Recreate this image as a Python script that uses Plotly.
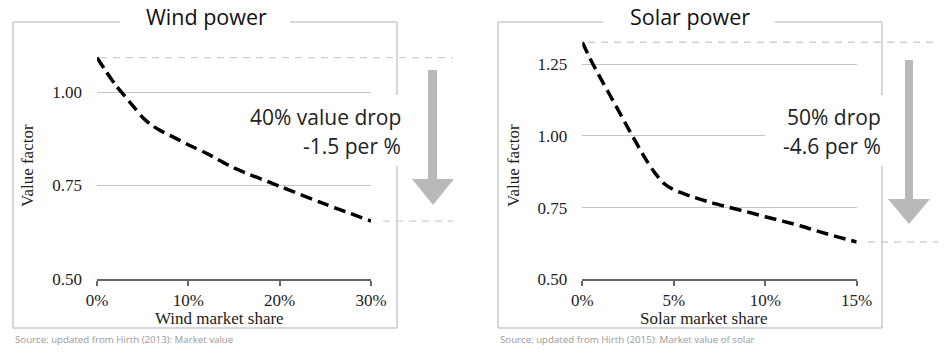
import plotly.graph_objects as go

W, H = 951, 354

# ---------------- data ----------------
wind_share = [0, 1, 2, 3, 4, 5, 6, 7, 8, 10, 12, 15, 20, 25, 30]
wind_value = [1.092, 1.055, 1.02, 0.99, 0.961, 0.932, 0.911, 0.896, 0.884, 0.859, 0.836, 0.797, 0.748, 0.70, 0.655]

solar_share = [0, 0.5, 1, 1.5, 2, 2.5, 3, 3.5, 4, 4.5, 5, 6, 7, 8, 9, 10, 11, 12, 13, 14, 15]
solar_value = [1.326, 1.26, 1.20, 1.143, 1.085, 1.027, 0.97, 0.915, 0.868, 0.832, 0.812, 0.788, 0.768,
               0.751, 0.735, 0.718, 0.702, 0.685, 0.665, 0.647, 0.63]

wind_xticks = [0, 10, 20, 30]
solar_xticks = [0, 5, 10, 15]
wind_yticks = [0.50, 0.75, 1.00]
solar_yticks = [0.50, 0.75, 1.00, 1.25]

panel_titles = ["Wind power", "Solar power"]
x_titles = ["Wind market share", "Solar market share"]
y_title = "Value factor"
notes = [("40% value drop", "-1.5 per %"), ("50% drop", "-4.6 per %")]
sources = ["Source: updated from Hirth (2013): Market value",
           "Source: updated from Hirth (2015): Market value of solar"]


def px(x):
    return x / W


def py(y):
    return 1 - y / H


SERIF = "Liberation Serif, Times New Roman, serif"
SANS = "Open Sans, Noto Sans, sans-serif"
GRID = "#c6c6c6"
FRAME = "#cacaca"
ARROW = "#b9b9b9"

fig = go.Figure()
fig.add_trace(go.Scatter(x=wind_share, y=wind_value, mode="lines", xaxis="x", yaxis="y",
                         line=dict(color="black", width=3.5, dash="12px,6px", shape="spline", smoothing=0.8),
                         showlegend=False, hoverinfo="skip"))
fig.add_trace(go.Scatter(x=solar_share, y=solar_value, mode="lines", xaxis="x2", yaxis="y2",
                         line=dict(color="black", width=3.5, dash="12px,6px", shape="spline", smoothing=0.8),
                         showlegend=False, hoverinfo="skip"))

xaxis_common = dict(showline=True, linecolor="#666", linewidth=1.5, ticks="outside", ticklen=5,
                    tickcolor="#666", tickwidth=1.5, showgrid=False, zeroline=False, automargin=False,
                    tickfont=dict(family=SERIF, size=17, color="#222"), ticklabelstandoff=0,
                    fixedrange=True)
yaxis_common = dict(showline=False, ticks="", showgrid=True, gridcolor=GRID, gridwidth=1,
                    zeroline=False, automargin=False, tickfont=dict(family=SERIF, size=17, color="#222"),
                    ticklabelstandoff=14, fixedrange=True)

fig.update_layout(
    width=W, height=H, margin=dict(l=0, r=0, t=0, b=0, autoexpand=False),
    paper_bgcolor="white", plot_bgcolor="rgba(0,0,0,0)",
    xaxis=dict(domain=[px(97), px(371)], range=[0, 30], anchor="y",
               tickvals=wind_xticks, ticktext=[f"{v}%" for v in wind_xticks], **xaxis_common),
    yaxis=dict(domain=[py(279), py(279 - 0.65 * 374)], range=[0.5, 1.15], anchor="x",
               tickvals=wind_yticks, ticktext=[f"{v:.2f}" for v in wind_yticks], **yaxis_common),
    xaxis2=dict(domain=[px(582.3), px(856.7)], range=[0, 15], anchor="y2",
                tickvals=solar_xticks, ticktext=[f"{v}%" for v in solar_xticks], **xaxis_common),
    yaxis2=dict(domain=[py(279.3), py(279.3 - 0.85 * 287)], range=[0.5, 1.35], anchor="x2",
                tickvals=solar_yticks, ticktext=[f"{v:.2f}" for v in solar_yticks], **yaxis_common),
)

shapes = []
panels = [
    dict(l=13, r=397, t=22, b=328, gl=120, gr=290, yref="y", first=wind_value[0], last=wind_value[-1],
         tx0=100, bx0=383, dx1=453, box=(232, 405), arrow=(428, 437, 70, 179, 412, 454, 205),
         title_x=206, xt_x=219, yt_x=27, note_r=403),
    dict(l=498, r=882, t=22, b=328, gl=603, gr=775, yref="y2", first=solar_value[0], last=solar_value[-1],
         tx0=588, bx0=868, dx1=938, box=(765, 890), arrow=(905, 913, 60, 199, 888, 930, 224),
         title_x=690, xt_x=703, yt_x=513, note_r=883),
]

for p in panels:
    line = dict(color=FRAME, width=1.5)
    # frame
    shapes.append(dict(type="line", xref="paper", yref="paper", x0=px(p["l"]), x1=px(p["l"]),
                       y0=py(p["t"]), y1=py(p["b"]), line=line, layer="above"))
    shapes.append(dict(type="line", xref="paper", yref="paper", x0=px(p["r"]), x1=px(p["r"]),
                       y0=py(p["t"]), y1=py(p["b"]), line=line, layer="above"))
    shapes.append(dict(type="line", xref="paper", yref="paper", x0=px(p["l"]), x1=px(p["r"]),
                       y0=py(p["b"]), y1=py(p["b"]), line=line, layer="above"))
    shapes.append(dict(type="line", xref="paper", yref="paper", x0=px(p["l"]), x1=px(p["gl"]),
                       y0=py(p["t"]), y1=py(p["t"]), line=line, layer="above"))
    shapes.append(dict(type="line", xref="paper", yref="paper", x0=px(p["gr"]), x1=px(p["r"]),
                       y0=py(p["t"]), y1=py(p["t"]), line=line, layer="above"))
    # dashed reference lines at start and end values
    dl = dict(color="#cfcfcf", width=1.3, dash="7px,6px")
    shapes.append(dict(type="line", xref="paper", yref=p["yref"], x0=px(p["tx0"]), x1=px(p["dx1"]),
                       y0=p["first"], y1=p["first"], line=dl, layer="above"))
    shapes.append(dict(type="line", xref="paper", yref=p["yref"], x0=px(p["bx0"]), x1=px(p["dx1"]),
                       y0=p["last"], y1=p["last"], line=dl, layer="above"))
    # white box behind note
    shapes.append(dict(type="rect", xref="paper", yref="paper", x0=px(p["box"][0]), x1=px(p["box"][1]),
                       y0=py(166), y1=py(95), fillcolor="white", line=dict(width=0), layer="above"))
    # arrow
    sl, sr, st, hb, hl, hr, tip = p["arrow"]
    cx = (hl + hr) / 2
    path = (f"M {px(sl)},{py(st)} L {px(sr)},{py(st)} L {px(sr)},{py(hb)} L {px(hr)},{py(hb)} "
            f"L {px(cx)},{py(tip)} L {px(hl)},{py(hb)} L {px(sl)},{py(hb)} Z")
    shapes.append(dict(type="path", xref="paper", yref="paper", path=path, fillcolor=ARROW,
                       line=dict(width=0), layer="above"))

fig.update_layout(shapes=shapes)

ann = []
for i, p in enumerate(panels):
    ann.append(dict(text=panel_titles[i], x=px(p["title_x"]), y=py(17), xref="paper", yref="paper",
                    showarrow=False, xanchor="center", yanchor="middle",
                    font=dict(family=SANS, size=21.5, color="#111")))
    ann.append(dict(text=x_titles[i], x=px(p["xt_x"]), y=py(318), xref="paper", yref="paper",
                    showarrow=False, xanchor="center", yanchor="middle",
                    font=dict(family=SERIF, size=17, color="#222")))
    ann.append(dict(text=y_title, x=px(p["yt_x"]), y=py(166), xref="paper", yref="paper",
                    showarrow=False, xanchor="center", yanchor="middle", textangle=-90,
                    font=dict(family=SERIF, size=17, color="#222")))
    ann.append(dict(text=notes[i][0], x=px(p["note_r"]), y=py(117), xref="paper", yref="paper",
                    showarrow=False, xanchor="right", yanchor="middle",
                    font=dict(family=SANS, size=21, color="#222")))
    ann.append(dict(text=notes[i][1], x=px(p["note_r"]), y=py(146), xref="paper", yref="paper",
                    showarrow=False, xanchor="right", yanchor="middle",
                    font=dict(family=SANS, size=21, color="#222")))
    ann.append(dict(text=sources[i], x=px(p["l"]), y=py(339), xref="paper", yref="paper",
                    showarrow=False, xanchor="left", yanchor="middle",
                    font=dict(family=SANS, size=9.7, color="#9a9a9a")))

fig.update_layout(annotations=ann)

fig.write_html("out.html")
